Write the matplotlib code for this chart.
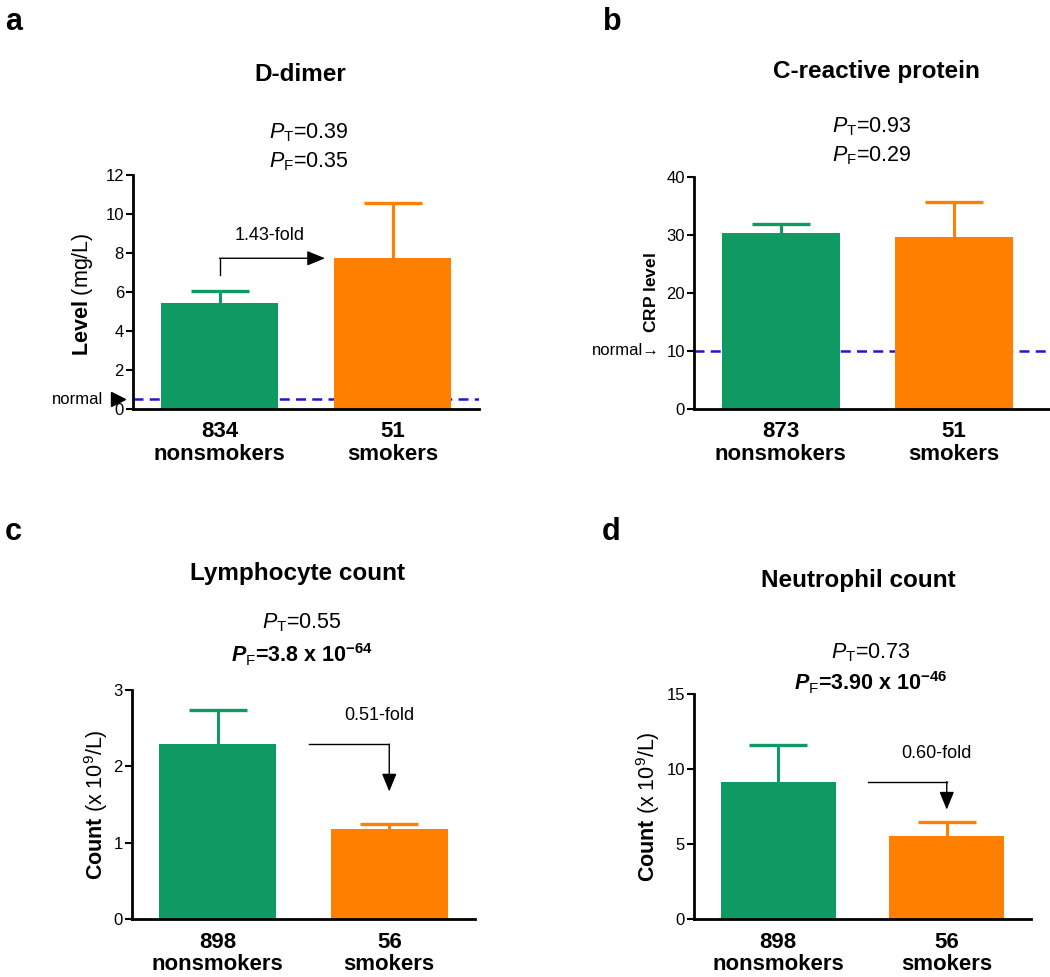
import numpy as np
import matplotlib
matplotlib.use("Agg")
import matplotlib.pyplot as plt
import matplotlib.transforms as mtransforms

plt.rcParams['font.family'] = ['Liberation Sans', 'DejaVu Sans']
plt.rcParams['mathtext.fontset'] = 'custom'
plt.rcParams['mathtext.rm'] = 'Liberation Sans'
plt.rcParams['mathtext.it'] = 'Liberation Sans:italic'
plt.rcParams['mathtext.bf'] = 'Liberation Sans:bold'
plt.rcParams['mathtext.bfit'] = 'Liberation Sans:italic:bold'

###################################################
#Data
letters = ["a", "b", "c", "d"]
titles = ["D-dimer", "C-reactive protein", "Lymphocyte count", "Neutrophil count"]
n_nonsmokers = [834, 873, 898, 898]
n_smokers = [51, 51, 56, 56]
mean_nonsmokers = [5.43, 30.37, 2.29, 9.16]
mean_smokers = [7.73, 29.68, 1.18, 5.56]
err_nonsmokers = [0.60, 1.61, 0.45, 2.46]
err_smokers = [2.82, 6.08, 0.07, 0.91]
p_t = ["0.39", "0.93", "0.55", "0.73"]
p_f = ["0.35", "0.29", "3.8 x 10$^{\\mathbf{-64}}$", "3.90 x 10$^{\\mathbf{-46}}$"]
p_f_bold = [False, False, True, True]
fold_text = ["1.43-fold", None, "0.51-fold", "0.60-fold"]
normal_level = [0.5, 10, None, None]
ylabels = [r"$\mathbf{Level}$ (mg/L)", r"$\mathbf{CRP\ level}$",
           r"$\mathbf{Count}$ (x 10$^9$/L)", r"$\mathbf{Count}$ (x 10$^9$/L)"]
ymax = [12, 40, 3, 15]
ystep = [2, 10, 1, 5]

green = '#0e9a62'
orange = '#ff8000'
blue = '#1a1ad2'

###################################################
#Layout in pixels of the 1050x977 figure
W, H = 1050.0, 977.0
# left, top, right, bottom of each axes
ax_px = [(133, 175, 479, 409), (694, 177, 1050, 409),
         (132, 690, 475, 919), (694, 694, 1031, 919)]
xright = [1.5, 1.555, 1.5, 1.5]
letter_px = [(5, 30), (603, 30), (5, 540), (602, 540)]
title_px = [(300, 81), (876, 78), (298, 580), (858, 587)]
pt_px = [(309, 138), (872, 132), (302, 628), (871, 658)]
pf_px = [(309, 167), (872, 161), (302, 662), (871, 690)]
ylab_xy = [(-0.147, 0.49), (-0.121, 0.5), (-0.105, 0.5), (-0.137, 0.5)]
arrow_gap = [0.85, None, 0.42, 0.82]  #gap between error bar and fold arrow

def fpos(x, y):
    return x/W, 1 - y/H

fig = plt.figure(figsize=(10.5, 9.77), dpi=100)

for i in range(4):
    l, t, r, b = ax_px[i]
    ax = fig.add_axes([l/W, 1 - b/H, (r - l)/W, (b - t)/H])
    x = np.array([0, 1])
    means = [mean_nonsmokers[i], mean_smokers[i]]
    errs = [err_nonsmokers[i], err_smokers[i]]
    cols = [green, orange]
    for j in range(2):
        ax.bar(x[j], means[j], width=0.68, color=cols[j], zorder=2)
        eb = ax.errorbar(x[j], means[j], yerr=[[0], [errs[j]]], fmt='none',
                         ecolor=cols[j], elinewidth=2.2, capsize=21, capthick=2.4, zorder=3)
        for cap in eb[1]:
            if np.allclose(cap.get_ydata(), means[j]):
                cap.set_visible(False)  #only the upper cap

    if normal_level[i] is not None:
        ax.axhline(normal_level[i], color=blue, ls=(0, (4, 2.5)), lw=1.8, zorder=1)
        trans = mtransforms.blended_transform_factory(ax.transAxes, ax.transData)
        if i == 0:
            ax.plot([-0.043], [normal_level[i]], marker='>', ms=10, color='black',
                    transform=trans, clip_on=False)
            ax.text(-0.085, normal_level[i], "normal", transform=trans, ha='right',
                    va='center', fontsize=12)
        else:
            ax.text(-0.095, normal_level[i], "normal\u2192", transform=trans, ha='right',
                    va='center', fontsize=12)

    #fold-change arrows
    astyle = dict(arrowstyle='-|>,head_length=1.1,head_width=0.45', color='black',
                  lw=1, shrinkA=0, shrinkB=0, mutation_scale=10)
    if fold_text[i] is not None:
        if means[1] > means[0]:
            y0 = means[0] + errs[0] + arrow_gap[i]
            y1 = means[1]
            ax.plot([0, 0], [y0, y1], color='black', lw=1, zorder=4)
            ax.annotate('', xy=(0.61, y1), xytext=(0, y1), arrowprops=astyle)
            ax.text(0.29, y1 + 0.08*ymax[i], fold_text[i], ha='center', va='baseline',
                    fontsize=13)
        else:
            y0 = means[0]
            y1 = means[1] + errs[1] + arrow_gap[i]
            ax.plot([0.53, 1.0], [y0, y0], color='black', lw=1, zorder=4)
            ax.annotate('', xy=(1.0, y1), xytext=(1.0, y0), arrowprops=astyle)
            ax.text(0.94, y0 + 0.105*ymax[i], fold_text[i], ha='center', va='baseline',
                    fontsize=13)

    ax.set_xlim(-0.5, xright[i])
    ax.set_ylim(0, ymax[i])
    ax.set_yticks(np.arange(0, ymax[i] + 0.001, ystep[i]))
    ax.set_xticks(x)
    ax.set_xticklabels(["%d\nnonsmokers" % n_nonsmokers[i], "%d\nsmokers" % n_smokers[i]],
                       fontsize=16, fontweight='bold', linespacing=1.12)
    ax.tick_params(axis='x', length=0, pad=9)
    ax.tick_params(axis='y', length=5, width=1.5, pad=1.5, labelsize=12)
    for s in ['top', 'right']:
        ax.spines[s].set_visible(False)
    for s in ['left', 'bottom']:
        ax.spines[s].set_linewidth(2)
    ax.set_ylabel(ylabels[i], fontsize=12.5 if i == 1 else 15.5, va='center', ha='center')
    ax.yaxis.set_label_coords(*ylab_xy[i])

    fig.text(*fpos(*letter_px[i]), letters[i], fontsize=22, fontweight='bold',
             ha='left', va='baseline')
    fig.text(*fpos(*title_px[i]), titles[i], fontsize=17.5, fontweight='bold',
             ha='center', va='baseline')
    fig.text(*fpos(*pt_px[i]), r"$\mathit{P}_\mathrm{T}$=" + p_t[i], fontsize=15.5,
             ha='center', va='baseline')
    if p_f_bold[i]:
        fig.text(*fpos(*pf_px[i]), r"$\mathbfit{P}_\mathrm{F}$=" + p_f[i], fontsize=15.5,
                 fontweight='bold', ha='center', va='baseline')
    else:
        fig.text(*fpos(*pf_px[i]), r"$\mathit{P}_\mathrm{F}$=" + p_f[i], fontsize=15.5,
                 ha='center', va='baseline')

fig.savefig("out.png", dpi=100, facecolor='white')
